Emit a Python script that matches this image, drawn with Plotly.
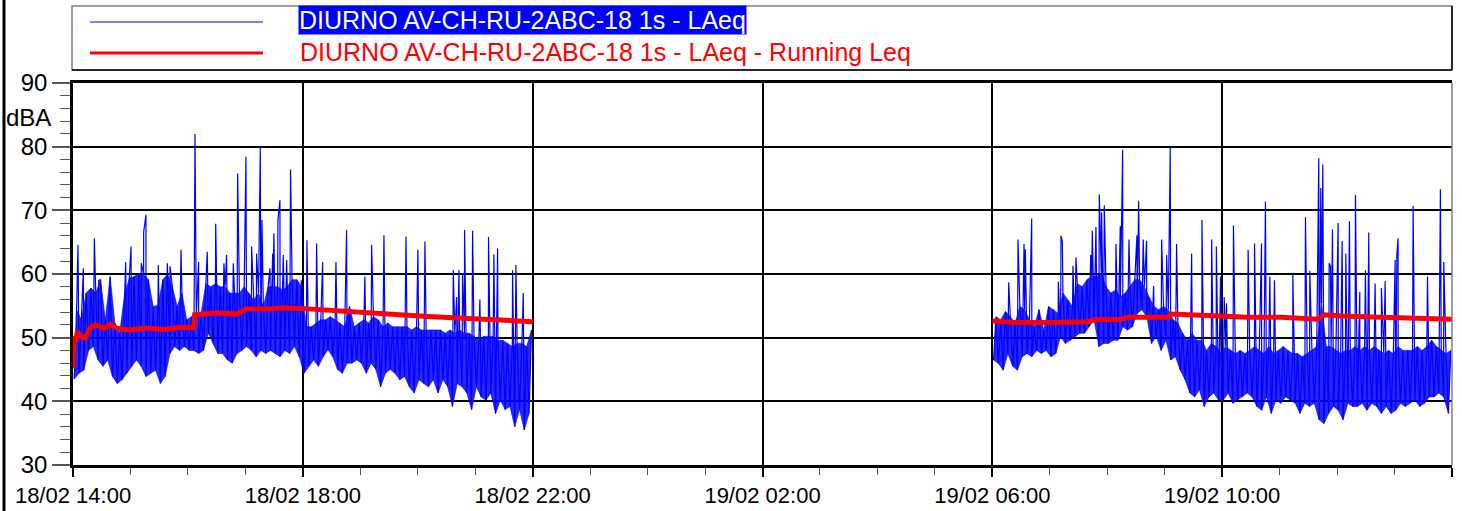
import plotly.graph_objects as go
import pandas as pd

# ---------------- data ----------------
SEG1_START = "2021-02-18 14:00"
SEG2_START = "2021-02-19 06:00"
AXIS_START = "2021-02-18 14:00"
AXIS_END = "2021-02-19 14:00"
SLOT_MIN = 5  # each low/high pair covers 5 minutes

# segment 1 (18/02 14:00 - 22:00): per-5-min body minimum / maximum (dBA)
seg1_low = [43.5, 44.4, 44.9, 48.0, 48.6, 46.5, 45.5, 46.5, 43.9, 42.8,
            43.4, 44.4, 45.5, 46.5, 45.5, 43.9, 44.4, 44.9, 42.8, 43.9,
            47.5, 48.6, 48.0, 48.6, 48.0, 48.0, 47.5, 48.0, 50.7, 49.1,
            47.5, 47.5, 46.5, 46.0, 47.5, 48.0, 48.6, 48.0, 47.0, 48.0,
            47.5, 48.0, 47.5, 47.0, 48.0, 47.5, 48.6, 47.0,
            44.4, 45.5, 46.5, 45.5, 47.0, 48.1, 47.0, 45.0, 44.4, 46.0,
            46.0, 46.5, 46.0, 44.4, 46.0, 45.0, 42.3, 44.4, 45.0, 44.4,
            43.4, 43.9, 42.3, 41.3, 43.4, 42.8, 42.3, 43.4, 41.3, 43.4,
            42.3, 39.2, 42.8, 42.3, 41.3, 38.7, 42.3, 40.7, 40.2, 41.3,
            38.1, 40.2, 38.7, 39.2, 36.0, 38.7, 35.5, 38.1]
seg1_high = [54.4, 52.8, 57.0, 57.8, 57.0, 59.1, 52.8, 59.6, 52.3, 50.7,
             56.7, 59.3, 59.6, 60.0, 60.0, 59.1, 54.9, 55.1, 59.1, 60.0,
             58.0, 54.9, 57.0, 52.8, 53.3, 53.3, 53.8, 58.5, 58.0, 58.5,
             58.0, 58.0, 57.0, 57.0, 57.0, 58.0, 57.0, 55.9, 57.0, 54.9,
             58.0, 58.0, 58.0, 57.5, 58.0, 59.1, 59.1, 58.0,
             51.7, 51.7, 52.3, 52.8, 52.8, 53.3, 52.8, 52.3, 51.7, 54.9,
             51.7, 52.3, 52.8, 52.3, 53.3, 52.8, 51.7, 52.3, 51.7, 51.7,
             51.7, 51.7, 51.2, 51.7, 51.2, 51.2, 51.2, 51.2, 51.2, 50.7,
             51.2, 50.7, 51.2, 50.7, 50.7, 50.2, 49.6, 50.2, 50.2, 50.2,
             49.6, 49.6, 49.1, 48.6, 49.1, 49.1, 48.6, 51.2]
# isolated peaks: minutes after segment start, level
seg1_spike_min = [5.2, 10.8, 22.3, 26.8, 55, 60.6, 71.3, 73.8, 76.2, 89.1,
                  98.5, 101.3, 112.8, 127.4, 131.2, 140.2, 149, 157.6, 160.4, 167.4,
                  171.9, 180.6, 186.5, 191.7, 195.6, 197.3, 205.7, 208.5, 209.8, 214,
                  216.1, 219.6, 223.1, 227.2, 238.4, 244.3, 254.4, 260.7, 274.6, 285.7,
                  304.8, 311.8, 324.7, 347.7, 360.2, 367.5, 397.1, 400.6, 403, 406.8,
                  408.9, 417.3, 424.9, 433.9, 439.5, 443.4, 459, 462.5, 470.2]
seg1_spike_val = [64.6, 60.9, 65.6, 59.0, 61.9, 64.3, 61.7, 66.6, 69.3, 61.4,
                  61.7, 61.2, 63.8, 82.0, 61.9, 63.5, 67.9, 61.7, 63.0, 61.7,
                  75.8, 78.4, 64.3, 63.2, 79.9, 68.5, 60.9, 63.2, 66.4, 68.5,
                  71.6, 63.0, 62.2, 76.4, 59.0, 65.3, 64.8, 61.9, 61.9, 66.9,
                  59.6, 64.6, 66.1, 65.9, 63.8, 65.1, 60.6, 56.4, 60.6, 60.1,
                  66.9, 66.8, 56.0, 65.8, 63.1, 64.0, 60.6, 61.4, 57.0]

# segment 2 (19/02 06:00 - 14:00)
seg2_low = [46.5, 46.0, 44.9, 47.5, 45.5, 44.9, 47.0, 47.5, 47.0, 48.0,
            47.5, 48.0, 47.0, 47.5, 50.2, 49.1, 49.6, 50.2, 50.7, 50.7,
            51.7, 52.8, 48.6, 49.1, 49.1, 49.6, 49.6, 51.7, 51.2, 51.7,
            53.8, 54.4, 53.3, 49.1, 50.2, 48.0, 49.6, 46.5, 47.0, 44.9,
            43.4, 41.3, 40.7, 41.8, 39.2, 40.7, 41.3, 40.2,
            40.2, 41.3, 39.7, 40.2, 40.7, 41.3, 40.7, 39.2, 38.6, 40.7,
            38.1, 40.2, 39.7, 40.7, 40.2, 39.7, 38.1, 39.7, 39.2, 39.7,
            37.1, 36.5, 38.1, 39.2, 38.6, 37.1, 39.7, 39.2, 39.2, 39.7,
            38.6, 39.7, 39.2, 38.1, 39.2, 38.1, 38.6, 39.7, 39.2, 39.7,
            40.2, 39.2, 39.7, 40.7, 40.7, 41.3, 40.7, 38.1]
seg2_high = [53.3, 52.8, 54.1, 53.3, 52.3, 54.9, 54.4, 52.8, 51.7, 54.4,
             51.2, 54.9, 54.4, 53.8, 57.0, 55.9, 54.9, 58.5, 58.0, 59.1,
             59.6, 59.6, 60.1, 58.0, 57.0, 57.5, 56.4, 57.0, 58.0, 59.1,
             59.1, 58.0, 56.4, 54.9, 54.4, 54.9, 54.4, 52.8, 52.3, 50.7,
             49.6, 50.7, 49.6, 49.6, 48.0, 49.1, 48.6, 47.5,
             48.6, 48.0, 47.5, 48.0, 47.5, 48.0, 48.6, 48.0, 47.5, 48.6,
             47.5, 48.0, 48.6, 48.0, 47.5, 47.5, 47.0, 47.5, 48.0, 48.6,
             55.4, 48.6, 48.6, 48.0, 47.5, 48.0, 48.0, 48.6, 48.0, 48.6,
             48.0, 48.6, 48.0, 47.5, 48.0, 47.5, 48.6, 48.0, 48.0, 48.0,
             48.6, 48.0, 48.6, 49.6, 48.6, 48.0, 47.5, 48.0]
seg2_spike_min = [17.1, 26.8, 33.1, 34.5, 41.1, 68.9, 71.7, 73.1, 84.2, 87.3,
                  102.7, 104.4, 108.2, 111.7, 114.1, 116.9, 129.1, 133.6, 136.1, 142.7,
                  151, 152.8, 157.6, 161.1, 168.4, 176.8, 182, 185.8, 192.4, 208.1,
                  218.9, 229, 233.9, 238.3, 242.1, 244.5, 251.8, 267.1, 273.8, 281.1,
                  285.2, 289.8, 294.6, 313.8, 327, 331.5, 339.5, 340.9, 343, 345.1,
                  351.7, 353.1, 355.2, 361.1, 365.3, 369.1, 372.9, 379.2, 383.7, 389.6,
                  393.1, 399.7, 406.3, 410.2, 420.6, 422.4, 423.7, 439.4, 454.4, 467.9,
                  471.4]
seg2_spike_val = [58.7, 65.4, 64.7, 63.9, 68.7, 58.8, 66.0, 65.1, 61.3, 62.6,
                  63.0, 66.8, 67.4, 72.5, 69.7, 70.8, 64.7, 67.5, 79.5, 65.4,
                  66.1, 71.5, 65.4, 65.2, 58.1, 65.4, 63.0, 79.9, 64.7, 63.2,
                  68.5, 65.4, 64.3, 59.6, 56.4, 55.4, 67.6, 63.8, 64.8, 64.8,
                  71.4, 59.6, 59.0, 59.9, 68.9, 60.5, 60.1, 78.2, 73.5, 77.2,
                  61.7, 61.2, 67.0, 68.0, 65.2, 63.2, 68.3, 72.4, 57.2, 60.6,
                  66.5, 58.5, 57.8, 58.9, 62.2, 63.0, 65.6, 70.7, 59.6, 73.3,
                  61.9]

# running Leq
leq1_min = [0, 1, 3, 4.5, 7, 12.5, 17.7, 23, 33, 39, 45.6, 57.8, 77, 94, 112, 126,
            127, 148, 150, 171, 176, 180, 206, 218, 237, 272, 307, 341, 376, 411, 446, 480]
leq1_val = [45.2, 50.2, 49.4, 51.0, 50.4, 49.9, 51.5, 52.0, 51.5, 52.1, 51.5, 51.2, 51.5, 51.3, 51.6, 51.6,
            53.6, 53.7, 53.9, 53.7, 54.1, 54.5, 54.5, 54.7, 54.6, 54.2, 53.8, 53.6, 53.3, 53.0, 52.8, 52.5]
leq2_min = [0, 24, 62, 100, 107, 135, 140, 163, 184, 187, 201, 243, 267, 302, 337, 340,
            347, 365, 406, 455, 459, 480]
leq2_val = [52.6, 52.4, 52.4, 52.5, 52.8, 52.9, 53.2, 53.3, 53.2, 53.7, 53.6, 53.4, 53.2, 53.2, 53.0, 52.9,
            53.6, 53.4, 53.2, 53.1, 52.9, 52.9]

Y_TICKS = [30, 40, 50, 60, 70, 80, 90]
LABEL_BLUE = "DIURNO AV-CH-RU-2ABC-18 1s - LAeq"
LABEL_RED = "DIURNO AV-CH-RU-2ABC-18 1s - LAeq - Running Leq"
Y_UNIT = "dBA"

BLUE = "#0000ff"
RED = "#ff0000"

# ---------------- build series ----------------
def slot_times(start, n, offset):
    t0 = pd.Timestamp(start)
    return [t0 + pd.Timedelta(minutes=i * SLOT_MIN + offset) for i in range(n)]


def build_blue(start, lows, highs, smin, sval):
    pts = []
    for i, (lo, hi) in enumerate(zip(lows, highs)):
        pts.append((i * SLOT_MIN + 1.25, lo))
        pts.append((i * SLOT_MIN + 3.75, hi))
    pts += list(zip(smin, sval))
    pts.sort(key=lambda p: p[0])
    t0 = pd.Timestamp(start)
    return [t0 + pd.Timedelta(minutes=m) for m, _ in pts], [v for _, v in pts]


def build_line(start, mins, vals):
    t0 = pd.Timestamp(start)
    return [t0 + pd.Timedelta(minutes=m) for m in mins], list(vals)


fig = go.Figure()

# dense body of the 1 s record: band between per-slot minima and maxima
for start, lows, highs in [(SEG1_START, seg1_low, seg1_high), (SEG2_START, seg2_low, seg2_high)]:
    fig.add_trace(go.Scatter(x=slot_times(start, len(lows), 1.25), y=lows, mode="lines",
                             line=dict(color=BLUE, width=0.6), showlegend=False, hoverinfo="skip"))
    fig.add_trace(go.Scatter(x=slot_times(start, len(highs), 3.75), y=highs, mode="lines",
                             line=dict(color=BLUE, width=0.6), fill="tonexty",
                             fillcolor="rgba(0,0,255,0.85)", showlegend=False, hoverinfo="skip"))

bx1, by1 = build_blue(SEG1_START, seg1_low, seg1_high, seg1_spike_min, seg1_spike_val)
bx2, by2 = build_blue(SEG2_START, seg2_low, seg2_high, seg2_spike_min, seg2_spike_val)
rx1, ry1 = build_line(SEG1_START, leq1_min, leq1_val)
rx2, ry2 = build_line(SEG2_START, leq2_min, leq2_val)
gap_t = pd.Timestamp("2021-02-19 02:00")

fig.add_trace(go.Scatter(x=bx1 + [gap_t] + bx2, y=by1 + [None] + by2, mode="lines",
                         line=dict(color=BLUE, width=1.2), connectgaps=False,
                         name=LABEL_BLUE, showlegend=False))
fig.add_trace(go.Scatter(x=rx1 + [gap_t] + rx2, y=ry1 + [None] + ry2, mode="lines",
                         line=dict(color=RED, width=5), connectgaps=False,
                         name=LABEL_RED, showlegend=False))

# ---------------- layout ----------------
W, H = 1462, 511
L, R, T, B = 73, 10, 83, 46
PW, PH = W - L - R, H - T - B


def px2x(px):
    return (px - L) / PW


def px2y(py):
    return (H - B - py) / PH


FONT = "Liberation Sans, Arial, sans-serif"

shapes = [
    dict(type="line", xref="paper", yref="paper", x0=px2x(4), x1=px2x(4), y0=px2y(0), y1=px2y(H),
         line=dict(color="black", width=3)),
    dict(type="rect", xref="paper", yref="paper", x0=px2x(72), x1=px2x(1452), y0=px2y(70), y1=px2y(6),
         line=dict(color="#808080", width=1.5), fillcolor="white"),
    dict(type="line", xref="paper", yref="paper", x0=px2x(72), x1=px2x(1452), y0=px2y(70), y1=px2y(70),
         line=dict(color="black", width=1.5)),
    dict(type="line", xref="paper", yref="paper", x0=px2x(1452), x1=px2x(1452), y0=px2y(70), y1=px2y(6),
         line=dict(color="black", width=1.5)),
    dict(type="line", xref="paper", yref="paper", x0=px2x(90), x1=px2x(263), y0=px2y(22), y1=px2y(22),
         line=dict(color=BLUE, width=1)),
    dict(type="line", xref="paper", yref="paper", x0=px2x(90), x1=px2x(263), y0=px2y(53), y1=px2y(53),
         line=dict(color=RED, width=3)),
    dict(type="line", xref="paper", yref="paper", x0=1, x1=1, y0=0, y1=1,
         line=dict(color="#808080", width=1.5)),
]

annotations = [
    dict(text=LABEL_BLUE, xref="paper", yref="paper", x=px2x(298), y=px2y(20),
         xanchor="left", yanchor="middle", showarrow=False, bgcolor=BLUE, borderpad=0,
         font=dict(family=FONT, size=25, color="white")),
    dict(text=LABEL_RED, xref="paper", yref="paper", x=px2x(298), y=px2y(52),
         xanchor="left", yanchor="middle", showarrow=False,
         font=dict(family=FONT, size=25, color=RED)),
    dict(text=Y_UNIT, xref="paper", yref="paper", x=px2x(4), y=px2y(117),
         xanchor="left", yanchor="middle", showarrow=False,
         font=dict(family=FONT, size=24, color="black")),
]

fig.update_layout(
    width=W, height=H,
    margin=dict(l=L, r=R, t=T, b=B, pad=0),
    paper_bgcolor="white", plot_bgcolor="white",
    font=dict(family=FONT, size=22, color="black"),
    showlegend=False,
    shapes=shapes,
    annotations=annotations,
    xaxis=dict(
        type="date", range=[AXIS_START, AXIS_END],
        tick0=AXIS_START, dtick=4 * 3600 * 1000, tickformat="%d/%m %H:%M",
        ticks="outside", ticklen=9, tickwidth=1.5, tickcolor="black",
        automargin=False,
        showgrid=True, gridcolor="black", gridwidth=1.5,
        showline=True, linecolor="black", linewidth=2.5, mirror=True,
        minor=dict(dtick=3600 * 1000, ticks="outside", ticklen=7, tickcolor="#555555",
                   tickwidth=1, showgrid=False),
        tickfont=dict(family=FONT, size=22, color="black"),
        zeroline=False, fixedrange=True,
    ),
    yaxis=dict(
        range=[30, 90], tickvals=Y_TICKS, ticktext=[str(v) for v in Y_TICKS],
        ticks="outside", ticklen=18, tickwidth=1.5, tickcolor="#555555",
        automargin=False,
        showgrid=True, gridcolor="black", gridwidth=1.5,
        showline=True, linecolor="black", linewidth=2.5, mirror=False,
        minor=dict(dtick=2, ticks="outside", ticklen=10, tickcolor="#555555", tickwidth=1,
                   showgrid=False),
        tickfont=dict(family=FONT, size=24, color="black"),
        zeroline=False, fixedrange=True,
    ),
)

fig.write_html("out.html")
